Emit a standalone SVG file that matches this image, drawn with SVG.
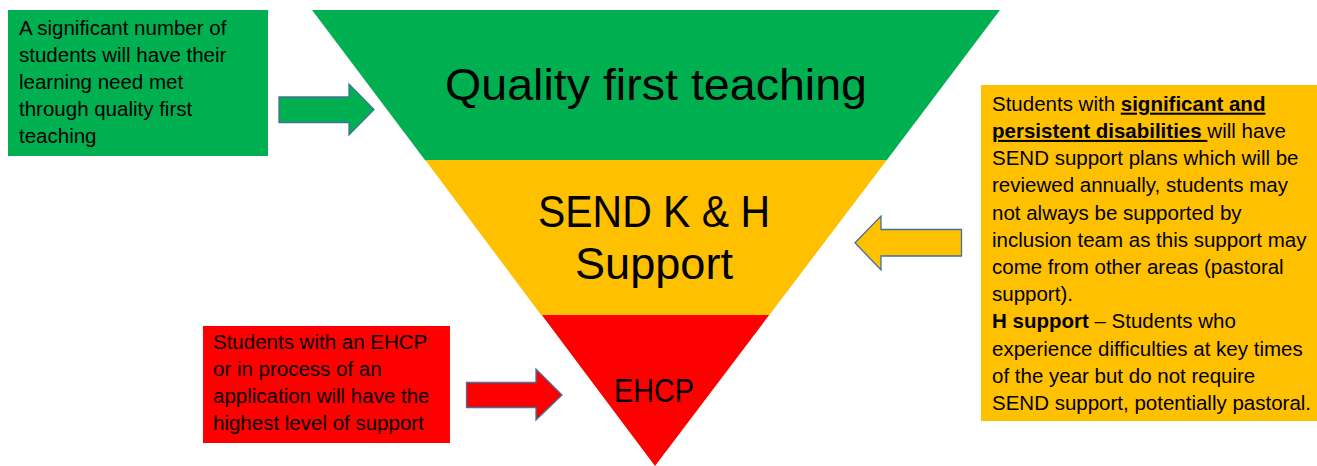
<svg xmlns="http://www.w3.org/2000/svg" width="1317" height="466" viewBox="0 0 1317 466">
<style>
.t{font-family:"Liberation Sans",Arial,sans-serif;font-size:20.5px;fill:#000}
.b{font-weight:bold}
.u{text-decoration:underline}
.big{font-family:"Liberation Sans",Arial,sans-serif;fill:#000;text-anchor:middle}
.arr{stroke:#41719C;stroke-width:1.3;stroke-linejoin:miter}
</style>
<rect width="1317" height="466" fill="#fff"/>
<g id="band-quality">
<polygon points="312,10 1000,10 886.5,160.5 425.3,160.5" fill="#00B050"/>
<text class="big" x="656" y="100" font-size="44" textLength="422" lengthAdjust="spacingAndGlyphs">Quality first teaching</text>
</g>
<g id="band-send">
<polygon points="425.3,160 886.8,160 769,315.5 541.5,315.5" fill="#FFC000"/>
<text class="big" x="654" y="227" font-size="44" textLength="232" lengthAdjust="spacingAndGlyphs">SEND K &amp; H</text>
<text class="big" x="654" y="279" font-size="44" textLength="158" lengthAdjust="spacingAndGlyphs">Support</text>
</g>
<g id="band-ehcp">
<polygon points="541.8,315 769.2,315 655,466" fill="#FF0000"/>
<text class="big" x="654" y="402" font-size="34" textLength="80" lengthAdjust="spacingAndGlyphs">EHCP</text>
</g>
<g id="note-quality">
<rect x="8" y="10" width="260" height="146" fill="#00B050"/>
<text class="t" x="19" y="35">A significant number of</text>
<text class="t" x="19" y="62">students will have their</text>
<text class="t" x="19" y="89">learning need met</text>
<text class="t" x="19" y="116">through quality first</text>
<text class="t" x="19" y="143">teaching</text>
</g>
<g id="note-send">
<rect x="981" y="85" width="336" height="336" fill="#FFC000"/>
<text class="t" x="992" y="110.7">Students with <tspan class="b u">significant and</tspan></text>
<text class="t" x="992" y="137.9"><tspan class="b u">persistent disabilities </tspan>will have</text>
<text class="t" x="992" y="165.1">SEND support plans which will be</text>
<text class="t" x="992" y="192.3">reviewed annually, students may</text>
<text class="t" x="992" y="219.5">not always be supported by</text>
<text class="t" x="992" y="246.7">inclusion team as this support may</text>
<text class="t" x="992" y="273.9">come from other areas (pastoral</text>
<text class="t" x="992" y="301.1">support).</text>
<text class="t" x="992" y="328.3"><tspan class="b">H support</tspan> – Students who</text>
<text class="t" x="992" y="355.5">experience difficulties at key times</text>
<text class="t" x="992" y="382.7">of the year but do not require</text>
<text class="t" x="992" y="409.9">SEND support, potentially pastoral.</text>
</g>
<g id="note-ehcp">
<rect x="203" y="326" width="247" height="117" fill="#FF0000"/>
<text class="t" x="213" y="349">Students with an EHCP</text>
<text class="t" x="213" y="376">or in process of an</text>
<text class="t" x="213" y="403">application will have the</text>
<text class="t" x="213" y="430">highest level of support</text>
</g>
<g id="connectors">
<polygon class="arr" fill="#00B050" points="279,97 349,97 349,84 374,109.5 349,135 349,122.5 279,122.5"/>
<polygon class="arr" fill="#FFC000" points="961.5,229.5 881,229.5 881,216 855,242.8 881,270 881,256 961.5,256"/>
<polygon class="arr" fill="#FF0000" points="466.5,382.5 536,382.5 536,369 562,395 536,420 536,407.5 466.5,407.5"/>
</g>
</svg>
